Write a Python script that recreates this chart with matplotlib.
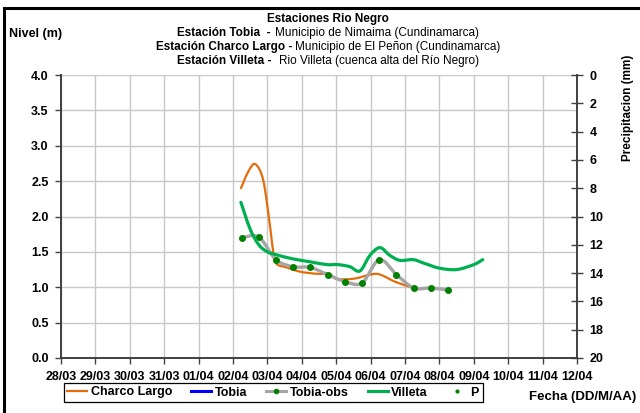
import numpy as np
import matplotlib
matplotlib.use('Agg')
import matplotlib.pyplot as plt
from matplotlib.path import Path
from matplotlib.patches import PathPatch, Rectangle
from matplotlib.lines import Line2D

plt.rcParams['font.family'] = ['Liberation Sans', 'DejaVu Sans']

# x values are days counted from 28/03
date_labels = ['28/03', '29/03', '30/03', '31/03', '01/04', '02/04', '03/04', '04/04',
               '05/04', '06/04', '07/04', '08/04', '09/04', '10/04', '11/04', '12/04']

charco_t = [5.23, 5.45, 5.65, 5.88, 6.08, 6.17, 6.27, 6.56, 6.95, 7.45, 7.8, 8.0, 8.5,
            9.0, 9.27, 9.75, 10.25]
charco_v = [2.40, 2.64, 2.74, 2.51, 1.85, 1.50, 1.33, 1.28, 1.22, 1.19, 1.19, 1.12, 1.12,
            1.18, 1.18, 1.07, 0.99]

villeta_t = [5.23, 5.5, 5.75, 6.0, 6.25, 6.75, 7.24, 7.72, 8.05, 8.4, 8.69, 8.98, 9.27,
             9.56, 9.85, 10.24, 10.55, 11.0, 11.5, 12.0, 12.26]
villeta_v = [2.20, 1.82, 1.60, 1.50, 1.46, 1.40, 1.36, 1.32, 1.32, 1.29, 1.23, 1.45, 1.56,
             1.45, 1.38, 1.39, 1.34, 1.27, 1.25, 1.32, 1.39]

obs_t = [5.25, 5.75, 6.25, 6.75, 7.25, 7.75, 8.25, 8.75, 9.25, 9.75, 10.25, 10.75, 11.25]
obs_v = [1.70, 1.71, 1.39, 1.29, 1.28, 1.18, 1.08, 1.06, 1.39, 1.18, 0.99, 0.99, 0.96]

level_ticks = [0.0, 0.5, 1.0, 1.5, 2.0, 2.5, 3.0, 3.5, 4.0]
precip_ticks = [0, 2, 4, 6, 8, 10, 12, 14, 16, 18, 20]

ORANGE = '#E46C0A'
GREEN = '#00B050'
GRAY = '#A6A6A6'
DOT = '#008000'
FS = 8.5


def smooth_path(xs, ys):
    # excel style smoothed line: bezier segments through the points
    pts = np.column_stack([xs, ys])
    n = len(pts)
    verts = [pts[0]]
    codes = [Path.MOVETO]
    for i in range(n - 1):
        p0 = pts[max(i - 1, 0)]
        p1 = pts[i]
        p2 = pts[i + 1]
        p3 = pts[min(i + 2, n - 1)]
        verts += [p1 + (p2 - p0) / 6, p2 - (p3 - p1) / 6, p2]
        codes += [Path.CURVE4] * 3
    return Path(verts, codes)


fig = plt.figure(figsize=(6.4, 4.13), dpi=100)
W, H = 640, 413
ax = fig.add_axes([61 / W, 1 - 358 / H, (577 - 61) / W, (358 - 75) / H])

ax.set_xlim(0, len(date_labels) - 1)
ax.set_ylim(0, 4)
ax.set_xticks(range(len(date_labels)))
ax.set_xticklabels(date_labels, fontsize=9, fontweight='bold')
ax.set_yticks(level_ticks)
ax.set_yticklabels([f'{v:.1f}' for v in level_ticks], fontsize=9, fontweight='bold')
ax.grid(True, color='#C8C8C8', lw=1)
ax.set_axisbelow(True)
for s in ['top', 'right']:
    ax.spines[s].set_visible(False)
for s in ['left', 'bottom']:
    ax.spines[s].set_color('#404040')
    ax.spines[s].set_linewidth(1.4)
ax.tick_params(axis='x', length=4, width=1, color='#404040', pad=5)
ax.tick_params(axis='y', length=4, width=1, color='#404040', pad=5)

ax.add_patch(PathPatch(smooth_path(charco_t, charco_v), fill=False, ec=ORANGE, lw=1.6,
                       capstyle='round', joinstyle='round', zorder=3))
ax.add_patch(PathPatch(smooth_path(obs_t, obs_v), fill=False, ec=GRAY, lw=2.4,
                       capstyle='round', joinstyle='round', zorder=4))
ax.plot(obs_t, obs_v, ls='none', marker='o', ms=4, color=DOT, zorder=5)
ax.add_patch(PathPatch(smooth_path(villeta_t, villeta_v), fill=False, ec=GREEN, lw=2.3,
                       capstyle='round', joinstyle='round', zorder=6))

ax2 = ax.twinx()
ax2.set_ylim(20, 0)
ax2.set_yticks(precip_ticks)
ax2.set_yticklabels([str(v) for v in precip_ticks], fontsize=9, fontweight='bold')
for s in ['top', 'left', 'bottom']:
    ax2.spines[s].set_visible(False)
ax2.spines['right'].set_color('#404040')
ax2.spines['right'].set_linewidth(1.4)
ax2.tick_params(axis='y', direction='inout', length=8, width=1, color='#404040', pad=5)

# titles, bold part + regular part on one line
renderer = fig.canvas.get_renderer()
title_cx = 328
fig.text(title_cx / W, 1 - 19 / H, 'Estaciones Rio Negro', ha='center', va='center',
         fontsize=FS, fontweight='bold')
lines = [
    (33, 'Estación Tobia  -', 'Municipio de Nimaima (Cundinamarca)', 4),
    (47, 'Estación Charco Largo -', 'Municipio de El Peñon (Cundinamarca)', 3),
    (61, 'Estación Villeta -', 'Rio Villeta (cuenca alta del Río Negro)', 7),
]
for yy, bold, reg, gap in lines:
    t1 = fig.text(0, 1 - yy / H, bold, ha='left', va='center', fontsize=FS, fontweight='bold')
    t2 = fig.text(0, 1 - yy / H, reg, ha='left', va='center', fontsize=FS)
    w1 = t1.get_window_extent(renderer).width
    w2 = t2.get_window_extent(renderer).width
    x0 = title_cx - (w1 + gap + w2) / 2
    t1.set_x(x0 / W)
    t2.set_x((x0 + w1 + gap) / W)

fig.text(9 / W, 1 - 34 / H, 'Nivel (m)', ha='left', va='center', fontsize=9,
         fontweight='bold')
fig.text(628 / W, 1 - 108 / H, 'Precipitacion (mm)', ha='center', va='center',
         rotation=90, fontsize=FS, fontweight='bold')
fig.text(636 / W, 1 - 397 / H, 'Fecha (DD/M/AA)', ha='right', va='center', fontsize=9.5,
         fontweight='bold')

handles = [
    Line2D([], [], color=ORANGE, lw=1.6),
    Line2D([], [], color='#0000FF', lw=2.2),
    Line2D([], [], color=GRAY, lw=2.2, marker='o', ms=3, mfc=DOT, mec=DOT),
    Line2D([], [], color=GREEN, lw=2.2),
    Line2D([], [], ls='none', marker='o', ms=2, color=DOT),
]
labels = ['Charco Largo', 'Tobia', 'Tobia-obs', 'Villeta', 'P']
leg = fig.legend(handles, labels, loc='center', bbox_to_anchor=(273 / W, 1 - 392.5 / H),
                 ncol=5, prop={'size': 9, 'weight': 'bold'}, frameon=True,
                 fancybox=False, edgecolor='black', framealpha=1, borderpad=0.3,
                 handlelength=1.6, handletextpad=0.3, columnspacing=1.5,
                 borderaxespad=0)
leg.get_frame().set_linewidth(0.9)

fig.add_artist(Rectangle((4 / W, -0.1), 1.2, 1.1 - 7.5 / H, transform=fig.transFigure,
                         fill=False, ec='black', lw=2.2))

fig.savefig('out.png', dpi=100)
